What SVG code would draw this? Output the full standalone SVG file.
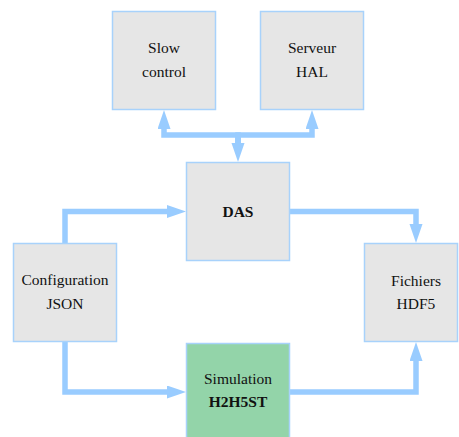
<svg xmlns="http://www.w3.org/2000/svg" width="459" height="437" viewBox="0 0 459 437">
<style>
.box{fill:#e6e6e6;stroke:#a8d2fb;stroke-width:1.5}
.sim{fill:#93d4a9}
text{font-size:15.5px;fill:#111;text-anchor:middle}
.b{font-weight:bold}
.c{fill:none;stroke:#99ccff;stroke-width:5.5;stroke-linejoin:miter;marker-end:url(#ah)}
</style>
<defs>
<marker id="ah" markerUnits="userSpaceOnUse" markerWidth="20" markerHeight="14" refX="0" refY="6.5" orient="auto">
<path d="M0,0 L19,6.5 L0,13 z" fill="#99ccff"/>
</marker>
</defs>
<rect width="459" height="437" fill="#fff"/>
<g id="connectors">
<path class="c" d="M238,143 V135 H164 V129"/>
<path class="c" d="M238,143 V135 H312 V129"/>
<path class="c" d="M238,135 V143"/>
<path class="c" d="M65,243 V211.5 H167"/>
<path class="c" d="M290,211.5 H416 V224"/>
<path class="c" d="M65,342 V392 H167"/>
<path class="c" d="M290,392 H416 V361"/>
</g>
<g font-family="Liberation Serif, serif">
<g id="slow">
<rect class="box" x="112.5" y="11.5" width="103" height="98"/>
<text x="164" y="53">Slow</text>
<text x="164" y="77">control</text>
</g>
<g id="hal">
<rect class="box" x="260.5" y="11.5" width="103" height="98"/>
<text x="312" y="53">Serveur</text>
<text x="312" y="77">HAL</text>
</g>
<g id="das">
<rect class="box" x="186.5" y="162.5" width="103" height="98"/>
<text class="b" x="238" y="217">DAS</text>
</g>
<g id="config">
<rect class="box" x="13.5" y="243.5" width="103" height="98"/>
<text x="65" y="285">Configuration</text>
<text x="65" y="309">JSON</text>
</g>
<g id="fichiers">
<rect class="box" x="364.5" y="243.5" width="93" height="98"/>
<text x="416" y="286">Fichiers</text>
<text x="416" y="309">HDF5</text>
</g>
<g id="simulation">
<rect class="box sim" x="186.5" y="343.5" width="103" height="98"/>
<text x="238" y="384">Simulation</text>
<text class="b" x="238" y="407">H2H5ST</text>
</g>
</g>
</svg>
